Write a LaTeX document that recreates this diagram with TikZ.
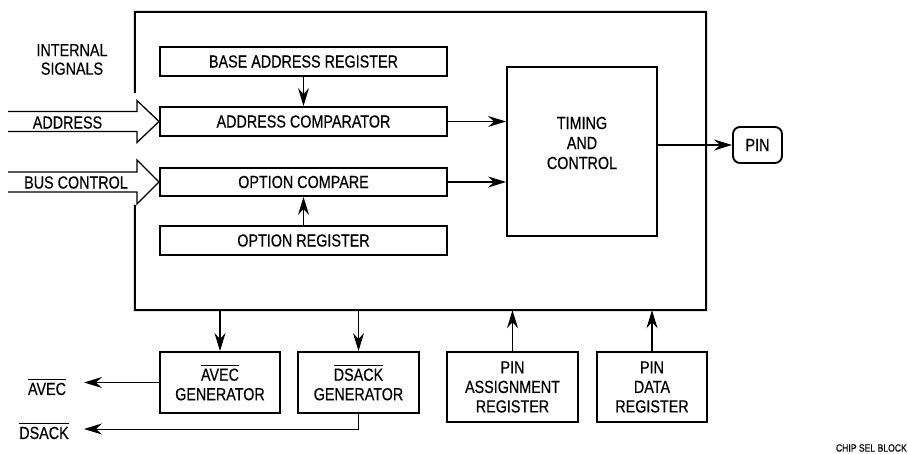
\documentclass[tikz,border=0pt]{standalone}
\usepackage{fontspec}
\setmainfont{Liberation Sans}[FakeStretch=0.82,FakeBold=0.4]
\usetikzlibrary{arrows.meta}
\newcommand\myovl[1]{\vbox{\hrule height 1.3pt \kern 2.6pt \hbox{#1}}}
\begin{document}
\begin{tikzpicture}[x=1pt,y=-1pt,
  box/.style={draw, line width=1.9pt, inner sep=0pt, font=\fontsize{17.5}{19.5}\selectfont, align=center},
  lbl/.style={inner sep=0pt, font=\fontsize{17.5}{18.5}\selectfont, align=center},
  arr/.style={line width=1.2pt, -{Stealth[length=18pt,width=11pt,inset=6pt]}},
  hollow/.style={line width=1.3pt, line join=miter}
]
\useasboundingbox (0,0) rectangle (908,454);

% outer block
\node[minimum width=571pt, minimum height=298pt, inner sep=0pt] (outer) at (420.5,161) {};
\coordinate (gt) at (135,93);
\coordinate (gb) at (135,205);
\draw[line width=2pt] (gt) -- (outer.north west) -- (outer.north east) -- (outer.south east) -- (outer.south west) -- (gb);

% inner registers
\node[box, minimum width=287pt, minimum height=29pt] (base) at (303.5,61.5) {BASE ADDRESS REGISTER};
\node[box, minimum width=287pt, minimum height=29pt] (addr) at (303.5,121.5) {ADDRESS COMPARATOR};
\node[box, minimum width=287pt, minimum height=28pt] (optc) at (303.5,182) {OPTION COMPARE};
\node[box, minimum width=287pt, minimum height=29pt] (optr) at (303.5,240.5) {OPTION REGISTER};

\node[box, minimum width=150pt, minimum height=169pt] (timing) at (582,151.5) {};
\node[lbl, font=\fontsize{17.5}{20}\selectfont] (timingtxt) at (582,143) {TIMING\\AND\\CONTROL};

\node[box, rounded corners=7pt, minimum width=49pt, minimum height=36pt] (pin) at (757.5,145) {PIN};

% bottom blocks
\node[box, minimum width=120pt, minimum height=61pt] (avec) at (220,382.5) {\myovl{AVEC}\\GENERATOR};
\node[box, minimum width=121pt, minimum height=61pt] (dsack) at (358.5,382.5) {\myovl{DSACK}\\GENERATOR};
\node[box, minimum width=131pt, minimum height=70pt] (pinass) at (512.5,387) {PIN\\ASSIGNMENT\\REGISTER};
\node[box, minimum width=110pt, minimum height=70pt] (pindata) at (652,387) {PIN\\DATA\\REGISTER};

% labels
\node[lbl] (intsig) at (72,59.5) {INTERNAL\\SIGNALS};
\node[lbl] (addrl) at (67.5,122.5) {ADDRESS};
\node[lbl] (busl) at (76,182.5) {BUS CONTROL};
\node[lbl] (avecl) at (47,387) {\myovl{AVEC}};
\node[lbl] (dsackl) at (44,431) {\myovl{DSACK}};
\node[inner sep=0pt, font=\fontsize{10.5}{12}\selectfont, anchor=east] (chip) at (907,448) {CHIP SEL BLOCK};

% hollow input arrows
\draw[hollow] (8,111.5) -- (137,111.5) -- (137,100.5) -- (159,121.5) -- (137,142.5) -- (137,131.5) -- (8,131.5);
\draw[hollow] (8,172) -- (137,172) -- (137,160) -- (159,182) -- (137,204) -- (137,192) -- (8,192);

% connectors
\draw[arr] (base.south) -- (addr.north);
\draw[arr] (optr.north) -- (optc.south);
\draw[arr] (addr.east) -- (addr.east -| timing.west);
\draw[arr] (optc.east) -- (optc.east -| timing.west);
\draw[arr] (pin.west -| timing.east) -- (pin.west);

\draw[arr] (avec.north |- outer.south) -- (avec.north);
\draw[arr] (dsack.north |- outer.south) -- (dsack.north);
\draw[arr] (pinass.north) -- (pinass.north |- outer.south);
\draw[arr] (pindata.north) -- (pindata.north |- outer.south);

\coordinate (avecend) at (84,382.5);
\coordinate (dsy) at (0,429);
\draw[arr] (avec.west) -- (avecend);
\draw[arr, line width=1pt] (dsack.south) -- (dsack.south |- dsy) -- (dsy -| avecend);
\end{tikzpicture}
\end{document}
